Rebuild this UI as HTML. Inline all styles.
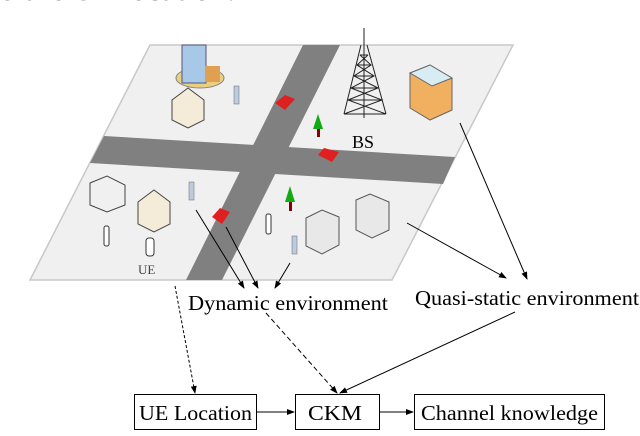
<!DOCTYPE html>
<html><head><style>
body{margin:0;background:#fff;width:640px;height:431px;overflow:hidden;font-family:"Liberation Serif",serif}
</style></head><body>
<svg width="640" height="431" viewBox="0 0 640 431" xmlns="http://www.w3.org/2000/svg" font-family="Liberation Serif, serif">
<defs>
<marker id="a" markerWidth="8" markerHeight="6" refX="7" refY="3" orient="auto" markerUnits="userSpaceOnUse"><path d="M0,0 L8,3 L0,6 z" fill="#000"/></marker>
</defs>
<text x="0" y="0" font-size="26" font-weight="bold" textLength="235" lengthAdjust="spacingAndGlyphs">o the UE location.</text>
<!-- plane -->
<polygon points="150,45 513,45 392,280 30,280" fill="#f0f0f0"/>
<polygon points="150,45 513,45 392,280 30,280" fill="none" stroke="#c8c8c8" stroke-width="1.5"/>
<polygon points="303,45 340,45 222,280 186,280" fill="#808080"/>
<polygon points="104,136 455,157 443,184 90,163" fill="#808080"/>
<!-- tower -->
<g stroke="#222" stroke-width="1" fill="none">
<line x1="364" y1="28" x2="364" y2="45"/>
<path d="M361,45 L344,114 M367,45 L386,114 M364,45 L364,118"/>
<path d="M360,55 L368,55 M357,65 L371,65 M354,76 L374,76 M351,88 L378,88 M348,100 L382,100 M344,114 L386,114"/>
<path d="M360,55 L371,65 L354,76 L378,88 L348,100 L386,114 M368,55 L357,65 L374,76 L351,88 L382,100 L344,114"/>
</g>
<text x="352" y="148" font-size="18">BS</text>
<!-- buildings -->
<g>
<ellipse cx="200" cy="78" rx="24" ry="10" fill="#e8d080" stroke="#888"/>
<rect x="182" y="45" width="24" height="38" fill="#a8c8e8" stroke="#557"/>
<rect x="205" y="66" width="15" height="16" fill="#e0a050"/>
<polygon points="172,100 188,88 204,100 204,120 188,128 172,120" fill="#f4ecd8" stroke="#444"/>
<polygon points="410,73 430,65 452,78 452,110 430,120 410,108" fill="#f0b060" stroke="#666"/>
<polygon points="410,73 430,65 452,78 432,86" fill="#d8ecf4" stroke="#666"/>
<polygon points="90,183 107,176 125,185 125,205 107,212 90,205" fill="#f0f0f0" stroke="#444"/>
<polygon points="138,202 154,190 170,202 170,224 154,232 138,224" fill="#f4ecd8" stroke="#444"/>
<polygon points="306,218 322,210 339,217 339,245 322,254 306,246" fill="#e8e8e8" stroke="#555"/>
<polygon points="356,200 370,194 389,202 389,230 372,238 356,230" fill="#e8e8e8" stroke="#555"/>
<polygon points="318,155 324,148 339,152 332,162" fill="#e02020"/>
<polygon points="212,217 220,208 230,212 222,224" fill="#e02020"/>
<polygon points="275,103 285,95 295,99 285,110" fill="#e02020"/>
<polygon points="318,114 313,129 323,129" fill="#11aa11"/><rect x="317" y="129" width="3" height="8" fill="#800"/>
<polygon points="290,186 285,202 295,202" fill="#11aa11"/><rect x="289" y="202" width="3" height="9" fill="#800"/>
<rect x="234" y="86" width="5" height="18" fill="#bcd" stroke="#667" stroke-width="0.5"/>
<rect x="189" y="182" width="5" height="18" fill="#bcd" stroke="#667" stroke-width="0.5"/>
<rect x="292" y="236" width="5" height="18" fill="#bcd" stroke="#667" stroke-width="0.5"/>
<rect x="146" y="238" width="8" height="18" rx="3" fill="#fff" stroke="#333"/>
<rect x="104" y="226" width="5" height="20" rx="2" fill="#fff" stroke="#333"/>
<rect x="266" y="214" width="5" height="20" rx="2" fill="#fff" stroke="#333"/>
</g>
<text x="138" y="274" font-size="13" fill="#444">UE</text>
<!-- arrows -->
<g stroke="#000" stroke-width="1" fill="none">
<line x1="196" y1="210" x2="244" y2="288" marker-end="url(#a)"/>
<line x1="226" y1="227" x2="258" y2="288" marker-end="url(#a)"/>
<line x1="290" y1="263" x2="275" y2="288" marker-end="url(#a)"/>
<line x1="407" y1="223" x2="506" y2="278" marker-end="url(#a)"/>
<line x1="460" y1="123" x2="527" y2="279" marker-end="url(#a)"/>
<line x1="175" y1="286" x2="195" y2="393" stroke-dasharray="3,2" marker-end="url(#a)"/>
<line x1="266" y1="313" x2="337" y2="393" stroke-dasharray="5,3" marker-end="url(#a)"/>
<line x1="515" y1="312" x2="340" y2="393" marker-end="url(#a)"/>
<line x1="257" y1="412" x2="294" y2="412" marker-end="url(#a)"/>
<line x1="379" y1="412" x2="413" y2="412" marker-end="url(#a)"/>
<rect x="134.5" y="394.5" width="122" height="35"/>
<rect x="295.5" y="394.5" width="84" height="35"/>
<rect x="414.5" y="394.5" width="190" height="35"/>
</g>
<text x="188" y="310" font-size="21" textLength="200" lengthAdjust="spacingAndGlyphs">Dynamic environment</text>
<text x="415" y="305" font-size="21" textLength="224" lengthAdjust="spacingAndGlyphs">Quasi-static environment</text>
<text x="139" y="420" font-size="21" textLength="113" lengthAdjust="spacingAndGlyphs">UE Location</text>
<text x="308" y="420" font-size="21" textLength="54" lengthAdjust="spacingAndGlyphs">CKM</text>
<text x="421" y="420" font-size="21" textLength="177" lengthAdjust="spacingAndGlyphs">Channel knowledge</text>
</svg>
</body></html>
